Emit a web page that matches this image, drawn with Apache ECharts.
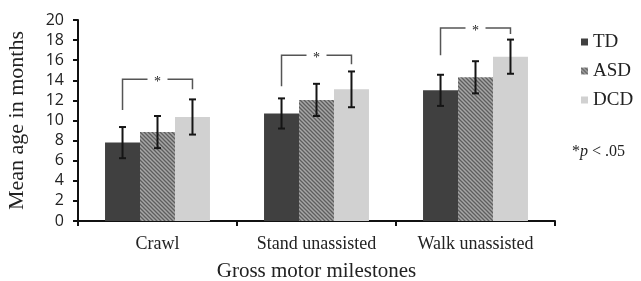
<!DOCTYPE html>
<html>
<head>
<meta charset="utf-8">
<script src="https://cdn.jsdelivr.net/npm/echarts@6/dist/echarts.min.js"></script>
<style>
  html, body { margin: 0; padding: 0; background: #fff; }
  #main { width: 641px; height: 281px; }
</style>
</head>
<body>
<div id="main"></div>
<script>
const categories = ['Crawl', 'Stand unassisted', 'Walk unassisted'];
const groups = ['TD', 'ASD', 'DCD'];
const tdMean = [7.8, 10.7, 13.0];
const asdMean = [8.85, 12.05, 14.3];
const dcdMean = [10.35, 13.1, 16.35];
const tdSd = [1.55, 1.5, 1.55];
const asdSd = [1.6, 1.6, 1.6];
const dcdSd = [1.75, 1.78, 1.7];
// TD vs DCD brackets: top line, left leg end, right leg end
const bracketTop = [14.1, 16.5, 19.2];
const bracketLeft = [11.05, 13.4, 16.5];
const bracketRight = [13.1, 15.6, 18.6];

const serif = '"Liberation Serif", "Times New Roman", serif';
const GAP = 0.34;

// hatched fill for ASD
function hatch() {
    var c = document.createElement('canvas');
    c.width = 4; c.height = 4;
    var ctx = c.getContext('2d');
    ctx.fillStyle = '#a6a6a6';
    ctx.fillRect(0, 0, 4, 4);
    ctx.strokeStyle = '#5e5e5e';
    ctx.lineWidth = 1.3;
    ctx.beginPath();
    ctx.moveTo(-1, -1); ctx.lineTo(5, 5);
    ctx.moveTo(-1, 3); ctx.lineTo(1, 5);
    ctx.moveTo(3, -1); ctx.lineTo(5, 1);
    ctx.stroke();
    return c;
}

const means = [tdMean, asdMean, dcdMean];
const sds = [tdSd, asdSd, dcdSd];
const colors = ['#404040', {image: hatch(), repeat: 'repeat'}, '#d1d1d1'];

function barOffset(api, k) {
    var bw = api.size([1, 0])[0];
    var w = bw * (1 - GAP) / 3;
    return (k - 1) * w;
}

var errData = [];
means.forEach(function (m, k) {
    m.forEach(function (v, i) {
        errData.push([i, v, sds[k][i], k]);
    });
});

var bracketData = categories.map(function (c, i) {
    return [i, bracketTop[i], bracketLeft[i], bracketRight[i]];
});

var series = groups.map(function (g, k) {
    return {
        name: g,
        type: 'bar',
        data: means[k],
        barGap: '0%',
        barCategoryGap: (GAP * 100) + '%',
        itemStyle: {color: colors[k]},
        emphasis: {disabled: true}
    };
});

series.push({
    type: 'custom',
    data: errData,
    z: 10,
    renderItem: function (params, api) {
        var i = api.value(0), m = api.value(1), s = api.value(2), k = api.value(3);
        var dx = barOffset(api, k);
        var hi = api.coord([i, m + s]);
        var lo = api.coord([i, m - s]);
        var x = hi[0] + dx;
        var st = {stroke: '#151515', lineWidth: 2};
        return {
            type: 'group',
            children: [
                {type: 'line', shape: {x1: x, y1: hi[1], x2: x, y2: lo[1]}, style: st},
                {type: 'line', shape: {x1: x - 3.5, y1: hi[1], x2: x + 3.5, y2: hi[1]}, style: st},
                {type: 'line', shape: {x1: x - 3.5, y1: lo[1], x2: x + 3.5, y2: lo[1]}, style: st}
            ]
        };
    }
});

series.push({
    type: 'custom',
    data: bracketData,
    z: 10,
    renderItem: function (params, api) {
        var i = api.value(0);
        var dl = barOffset(api, 0), dr = barOffset(api, 2);
        var t = api.coord([i, api.value(1)]);
        var l = api.coord([i, api.value(2)]);
        var r = api.coord([i, api.value(3)]);
        var x1 = t[0] + dl, x2 = t[0] + dr, y = t[1];
        var mid = (x1 + x2) / 2;
        var st = {stroke: '#555', lineWidth: 1.5, fill: 'none'};
        return {
            type: 'group',
            children: [
                {type: 'polyline', shape: {points: [[x1, l[1]], [x1, y], [mid - 10, y]]}, style: st},
                {type: 'polyline', shape: {points: [[mid + 10, y], [x2, y], [x2, r[1]]]}, style: st},
                {type: 'text', x: mid, y: y - 4, style: {text: '*', fontSize: 14, fontFamily: serif,
                    fill: '#222', align: 'center', verticalAlign: 'top'}}
            ]
        };
    }
});

var chart = echarts.init(document.getElementById('main'));
chart.setOption({
    animation: false,
    grid: {left: 78, right: 86, top: 20, bottom: 60, containLabel: false, outerBoundsMode: 'none'},
    legend: {
        data: groups,
        orient: 'vertical',
        left: 576,
        top: 26,
        icon: 'rect',
        itemWidth: 7,
        itemHeight: 7,
        itemGap: 7,
        textStyle: {fontFamily: serif, fontSize: 19, color: '#222', lineHeight: 22}
    },
    xAxis: {
        type: 'category',
        data: categories,
        name: 'Gross motor milestones',
        nameLocation: 'middle',
        nameGap: 40,
        nameTextStyle: {fontFamily: serif, fontSize: 21, color: '#222'},
        axisLine: {lineStyle: {color: '#111', width: 2}},
        axisTick: {show: true, length: 5, lineStyle: {color: '#111', width: 2}},
        axisLabel: {fontFamily: serif, fontSize: 18, color: '#222', margin: 14}
    },
    yAxis: {
        type: 'value',
        min: 0,
        max: 20,
        interval: 2,
        name: 'Mean age in months',
        nameLocation: 'middle',
        nameGap: 50,
        nameTextStyle: {fontFamily: serif, fontSize: 22, color: '#222'},
        splitLine: {show: false},
        axisLine: {show: true, lineStyle: {color: '#111', width: 2}},
        axisTick: {show: true, length: 5, lineStyle: {color: '#111', width: 2}},
        axisLabel: {fontFamily: '"Open Sans", sans-serif', fontSize: 16, color: '#222', margin: 14}
    },
    graphic: [{
        type: 'text',
        left: 572,
        top: 144,
        style: {
            rich: {
                n: {fontFamily: serif, fontSize: 16, fill: '#222'},
                i: {fontFamily: serif, fontSize: 16, fontStyle: 'italic', fill: '#222'}
            },
            text: '{n|*}{i|p}{n| < .05}'
        }
    }],
    series: series
});
</script>
</body>
</html>
